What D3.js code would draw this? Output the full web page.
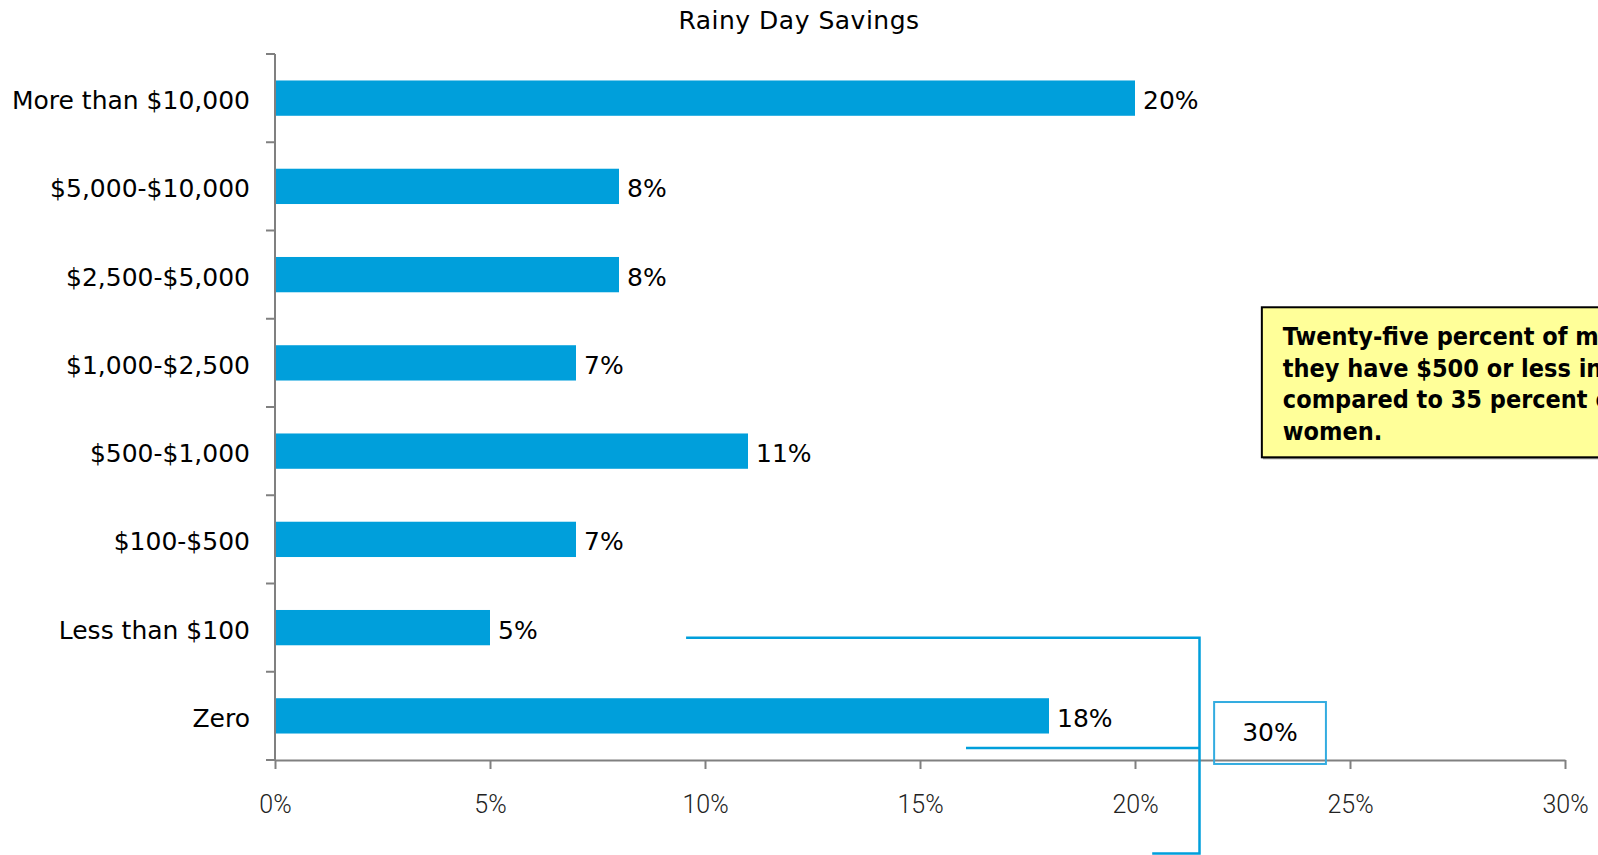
<!DOCTYPE html>
<html>
<head>
<meta charset="utf-8">
<script src="https://cdn.jsdelivr.net/npm/d3@7"></script>
<style>
  body { margin: 0; background: #fff; overflow: hidden; }
  text { font-family: "DejaVu Sans", sans-serif; }
</style>
</head>
<body>
<div id="container"></div>
<script>
/* chart data */
var title = "Rainy Day Savings"
var categories = ["More than $10,000", "$5,000-$10,000", "$2,500-$5,000", "$1,000-$2,500",
                  "$500-$1,000", "$100-$500", "Less than $100", "Zero"]
var shares = [20, 8, 8, 7, 11, 7, 5, 18]
var xTicks = [0, 5, 10, 15, 20, 25, 30]

/* call-out note and the bracket (x in percent, y in category rows) */
var noteLines = ["Twenty-five percent of men say", "they have $500 or less in savings,",
                 "compared to 35 percent of", "women."]
var noteBox = { x0: 22.95, x1: 32, y0: 2.87, y1: 4.57 }
var bracketLabel = "30%"
var bracketMain = [[9.56, 6.614], [21.5, 6.614], [21.5, 9.06], [20.4, 9.06]]
var bracketLower = [[16.07, 7.864], [21.5, 7.864]]
var bracketBox = { x0: 21.84, x1: 24.44, y0: 7.343, y1: 8.045 }

/* setup the dimensions */
var W = 1598, H = 855
var plotLeft = 275, plotRight = 1565, plotTop = 54, plotBottom = 760

var svg = d3.select("#container").append("svg")
            .attr("width", W).attr("height", H)

var x = d3.scaleLinear().domain([0, 30]).range([plotLeft, plotRight])
var y = d3.scaleBand().domain(categories).range([plotTop, plotBottom])
          .paddingInner(0.6).paddingOuter(0.3)
var row = d3.scaleLinear().domain([0, categories.length]).range([plotTop, plotBottom])

var blue = "#009fdb", grey = "#808080"

/* title */
svg.append("text")
   .attr("x", W / 2).attr("y", 29)
   .attr("text-anchor", "middle")
   .style("font-size", "25px")
   .style("letter-spacing", "0.5px")
   .text(title)

/* bars */
svg.selectAll(".bar")
   .data(categories)
   .enter().append("rect")
     .attr("class", "bar")
     .attr("x", x(0))
     .attr("y", function(d) { return y(d) })
     .attr("width", function(d, i) { return x(shares[i]) - x(0) })
     .attr("height", y.bandwidth())
     .attr("fill", blue)

/* value labels */
svg.selectAll(".val")
   .data(categories)
   .enter().append("text")
     .attr("class", "val")
     .attr("x", function(d, i) { return x(shares[i]) + 8 })
     .attr("y", function(d) { return y(d) + y.bandwidth() / 2 + 11 })
     .style("font-size", "25px")
     .text(function(d, i) { return shares[i] + "%" })

/* category labels */
svg.selectAll(".cat")
   .data(categories)
   .enter().append("text")
     .attr("class", "cat")
     .attr("x", plotLeft - 25)
     .attr("y", function(d) { return y(d) + y.bandwidth() / 2 + 11 })
     .attr("text-anchor", "end")
     .style("font-size", "25px")
     .text(function(d) { return d })

/* y axis: line plus ticks between the categories */
svg.append("line")
   .attr("x1", plotLeft).attr("x2", plotLeft).attr("y1", plotTop).attr("y2", plotBottom)
   .attr("stroke", grey).attr("stroke-width", 2)
svg.selectAll(".ytick")
   .data(d3.range(categories.length + 1))
   .enter().append("line")
     .attr("class", "ytick")
     .attr("x1", plotLeft - 9).attr("x2", plotLeft)
     .attr("y1", function(d) { return row(d) }).attr("y2", function(d) { return row(d) })
     .attr("stroke", grey).attr("stroke-width", 2)

/* x axis */
var xAxis = svg.append("g")
   .attr("transform", "translate(0," + plotBottom + ")")
   .call(d3.axisBottom(x).tickValues(xTicks).tickSize(9).tickSizeOuter(0)
           .tickFormat(function(d) { return d + "%" }))
xAxis.select(".domain").attr("stroke", grey).attr("stroke-width", 2)
xAxis.selectAll(".tick line").attr("stroke", grey).attr("stroke-width", 2)
xAxis.selectAll(".tick text")
   .attr("y", 53).attr("dy", null)
   .attr("fill", "#222")
   .style("font-family", "Roboto, 'DejaVu Sans', sans-serif")
   .style("font-weight", 300)
   .style("font-size", "25px")

/* note box */
svg.append("rect")
   .attr("x", x(noteBox.x0) + 1).attr("y", row(noteBox.y0) + 2)
   .attr("width", x(noteBox.x1) - x(noteBox.x0)).attr("height", row(noteBox.y1) - row(noteBox.y0))
   .attr("fill", "#999")
svg.append("rect")
   .attr("x", x(noteBox.x0)).attr("y", row(noteBox.y0))
   .attr("width", x(noteBox.x1) - x(noteBox.x0)).attr("height", row(noteBox.y1) - row(noteBox.y0))
   .attr("fill", "#ffff99").attr("stroke", "#000").attr("stroke-width", 2)
svg.selectAll(".note")
   .data(noteLines)
   .enter().append("text")
     .attr("class", "note")
     .attr("x", x(noteBox.x0) + 21)
     .attr("y", function(d, i) { return 345 + i * 31.5 })
     .style("font-family", "'DejaVu Sans Condensed', 'DejaVu Sans', sans-serif")
     .style("font-weight", "bold")
     .style("font-size", "25px")
     .text(function(d) { return d })

/* bracket */
var line = d3.line().x(function(d) { return x(d[0]) }).y(function(d) { return row(d[1]) })
svg.append("path").attr("d", line(bracketMain))
   .attr("fill", "none").attr("stroke", blue).attr("stroke-width", 2.5)
svg.append("path").attr("d", line(bracketLower))
   .attr("fill", "none").attr("stroke", blue).attr("stroke-width", 2.5)
svg.append("rect")
   .attr("x", x(bracketBox.x0)).attr("y", row(bracketBox.y0))
   .attr("width", x(bracketBox.x1) - x(bracketBox.x0))
   .attr("height", row(bracketBox.y1) - row(bracketBox.y0))
   .attr("fill", "none").attr("stroke", "#33ace0").attr("stroke-width", 2)
svg.append("text")
   .attr("x", (x(bracketBox.x0) + x(bracketBox.x1)) / 2)
   .attr("y", 741)
   .attr("text-anchor", "middle")
   .style("font-size", "25px")
   .text(bracketLabel)
</script>
</body>
</html>
